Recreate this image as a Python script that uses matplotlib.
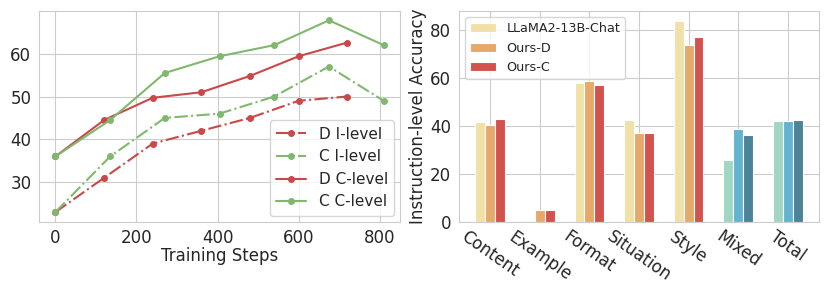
import matplotlib
matplotlib.use("Agg")
from matplotlib import pyplot as plt
import seaborn as sns
import numpy as np

sns.set_style("whitegrid")
plt.rcParams['font.family'] = ['DejaVu Sans']

# left panel: accuracy over training steps
steps_d = [0, 120, 240, 360, 480, 600, 720]
steps_c = [0, 135, 270, 405, 540, 675, 810]
d_ilevel = [23, 31, 39, 42, 45, 49, 50]
c_ilevel = [23, 36, 45, 46, 50, 57, 49]
d_clevel = [36, 44.5, 49.7, 51, 54.8, 59.4, 62.6]
c_clevel = [36, 44.5, 55.5, 59.4, 62, 67.8, 62]

# right panel: instruction-level accuracy per category
categories = ["Content", "Example", "Format", "Situation", "Style", "Mixed", "Total"]
llama = [41.5, 0, 57.8, 42.6, 84.0, 25.7, 41.9]
ours_d = [40.6, 4.7, 58.7, 37.1, 74.0, 38.7, 42.3]
ours_c = [43.1, 4.7, 57.2, 37.1, 77.2, 36.4, 42.6]
series_names = ["LLaMA2-13B-Chat", "Ours-D", "Ours-C"]

red = "#c9484a"
green = "#80b86e"
warm = ["#f1e1a9", "#e6a86b", "#d3524d"]
cool = ["#9fd6c4", "#62b4d0", "#4d8396"]

fig = plt.figure(figsize=(8.3, 2.97), dpi=100)
ax1 = fig.add_axes([0.047, 0.2535, 0.435, 0.7104])
ax2 = fig.add_axes([0.553, 0.2535, 0.4337, 0.7104])

ax1.plot(steps_d, d_ilevel, color=red, ls="-.", marker="o", ms=4, lw=1.5, label="D I-level")
ax1.plot(steps_c, c_ilevel, color=green, ls="-.", marker="o", ms=4, lw=1.5, label="C I-level")
ax1.plot(steps_d, d_clevel, color=red, ls="-", marker="o", ms=4, lw=1.5, label="D C-level")
ax1.plot(steps_c, c_clevel, color=green, ls="-", marker="o", ms=4, lw=1.5, label="C C-level")
ax1.set_xticks([0, 200, 400, 600, 800])
ax1.set_yticks([30, 40, 50, 60])
ax1.tick_params(labelsize=12, pad=2)
ax1.set_xlabel("Training Steps", fontsize=12, labelpad=0)
ax1.legend(loc="lower right", fontsize=11, borderaxespad=0.4)

x = np.arange(len(categories))
w = 0.2
for k, vals in enumerate([llama, ours_d, ours_c]):
    cols = [warm[k]] * 5 + [cool[k]] * 2
    ax2.bar(x + (k - 1) * w, vals, width=w, color=cols, edgecolor="white",
            linewidth=0.8, label=series_names[k])
ax2.set_xticks(x)
ax2.set_xticklabels(categories, rotation=-35, ha="center", fontsize=12)
ax2.set_yticks([0, 20, 40, 60, 80])
ax2.tick_params(axis="y", labelsize=12, pad=2)
ax2.tick_params(axis="x", pad=1)
ax2.set_ylabel("Instruction-level Accuracy", fontsize=12, labelpad=2)
ax2.legend(loc="upper left", fontsize=9.2)

fig.savefig("out.png", dpi=100)
